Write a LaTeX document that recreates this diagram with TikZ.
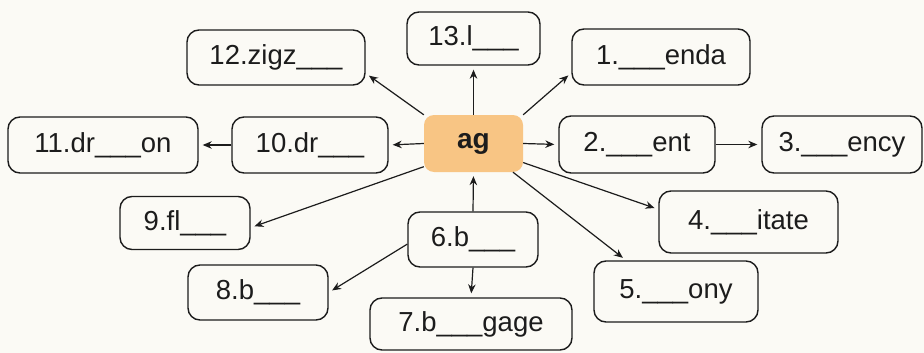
\documentclass[tikz,border=0pt]{standalone}
\usepackage{fontspec}
\setmainfont{Liberation Sans}
\usetikzlibrary{arrows.meta}
\definecolor{bg}{RGB}{251,250,245}
\definecolor{agfill}{RGB}{248,197,132}
\definecolor{ink}{RGB}{28,28,28}
\begin{document}
\begin{tikzpicture}[x=1pt,y=-1pt,
  box/.style={draw=ink, line width=1.4pt, rounded corners=12pt, fill=bg,
    text=ink, inner sep=0pt, font=\fontsize{27.5}{30}\selectfont},
  hub/.style={fill=agfill, rounded corners=10pt, text=ink, inner sep=0pt,
    font=\fontsize{28}{30}\selectfont\bfseries},
  arr/.style={draw=ink, line width=1.2pt, -{Stealth[length=9pt,width=7.5pt]}, shorten >=4pt}]
\useasboundingbox (0,0) rectangle (924,353);
\fill[bg] (0,0) rectangle (924,353);

\node[hub, minimum width=99pt, minimum height=57pt] (ag) at (473.5,143.5) {ag};
\node[box, minimum width=133pt, minimum height=53pt] (n13) at (473.5,38.5) {13.l\_\_\_};
\node[box, minimum width=178pt, minimum height=55pt] (n12) at (276,57.5) {12.zigz\_\_\_};
\node[box, minimum width=178pt, minimum height=56pt] (n1) at (661,57) {1.\_\_\_enda};
\node[box, minimum width=190pt, minimum height=56pt] (n11) at (103,145) {11.dr\_\_\_on};
\node[box, minimum width=156pt, minimum height=56pt] (n10) at (310,145) {10.dr\_\_\_};
\node[box, minimum width=156pt, minimum height=57pt] (n2) at (637,144.5) {2.\_\_\_ent};
\node[box, minimum width=160pt, minimum height=57pt] (n3) at (842,144.5) {3.\_\_\_ency};
\node[box, minimum width=130pt, minimum height=53pt] (n9) at (185,223) {9.fl\_\_\_};
\node[box, minimum width=179pt, minimum height=62pt] (n4) at (748.5,222) {4.\_\_\_itate};
\node[box, minimum width=130pt, minimum height=55pt] (n6) at (473,239.5) {6.b\_\_\_};
\node[box, minimum width=140pt, minimum height=55pt] (n8) at (258,292.5) {8.b\_\_\_};
\node[box, minimum width=202pt, minimum height=52pt] (n7) at (471,324) {7.b\_\_\_gage};
\node[box, minimum width=164pt, minimum height=61pt] (n5) at (676,291.5) {5.\_\_\_ony};

\draw[arr] (ag.north) -- (n13.south);
\draw[arr] (ag.north west) -- (n12.-10);
\draw[arr] (ag.north east) -- (n1.190);
\draw[arr] (ag.west) -- (n10.east);
\draw[arr] (n10.west) -- (n11.east);
\draw[arr] (ag.east) -- (n2.west);
\draw[arr] (n2.east) -- (n3.west);
\draw[arr] (ag.205) -- (n9.-4);
\draw[arr] (ag.-21) -- (n4.172);
\draw[arr] (ag.-36) -- (n5.148);
\draw[arr] (n6.north) -- (ag.south);
\draw[arr] (n6.184) -- (n8.east);
\draw[arr] (n6.south) -- (n7.north);
\end{tikzpicture}
\end{document}
